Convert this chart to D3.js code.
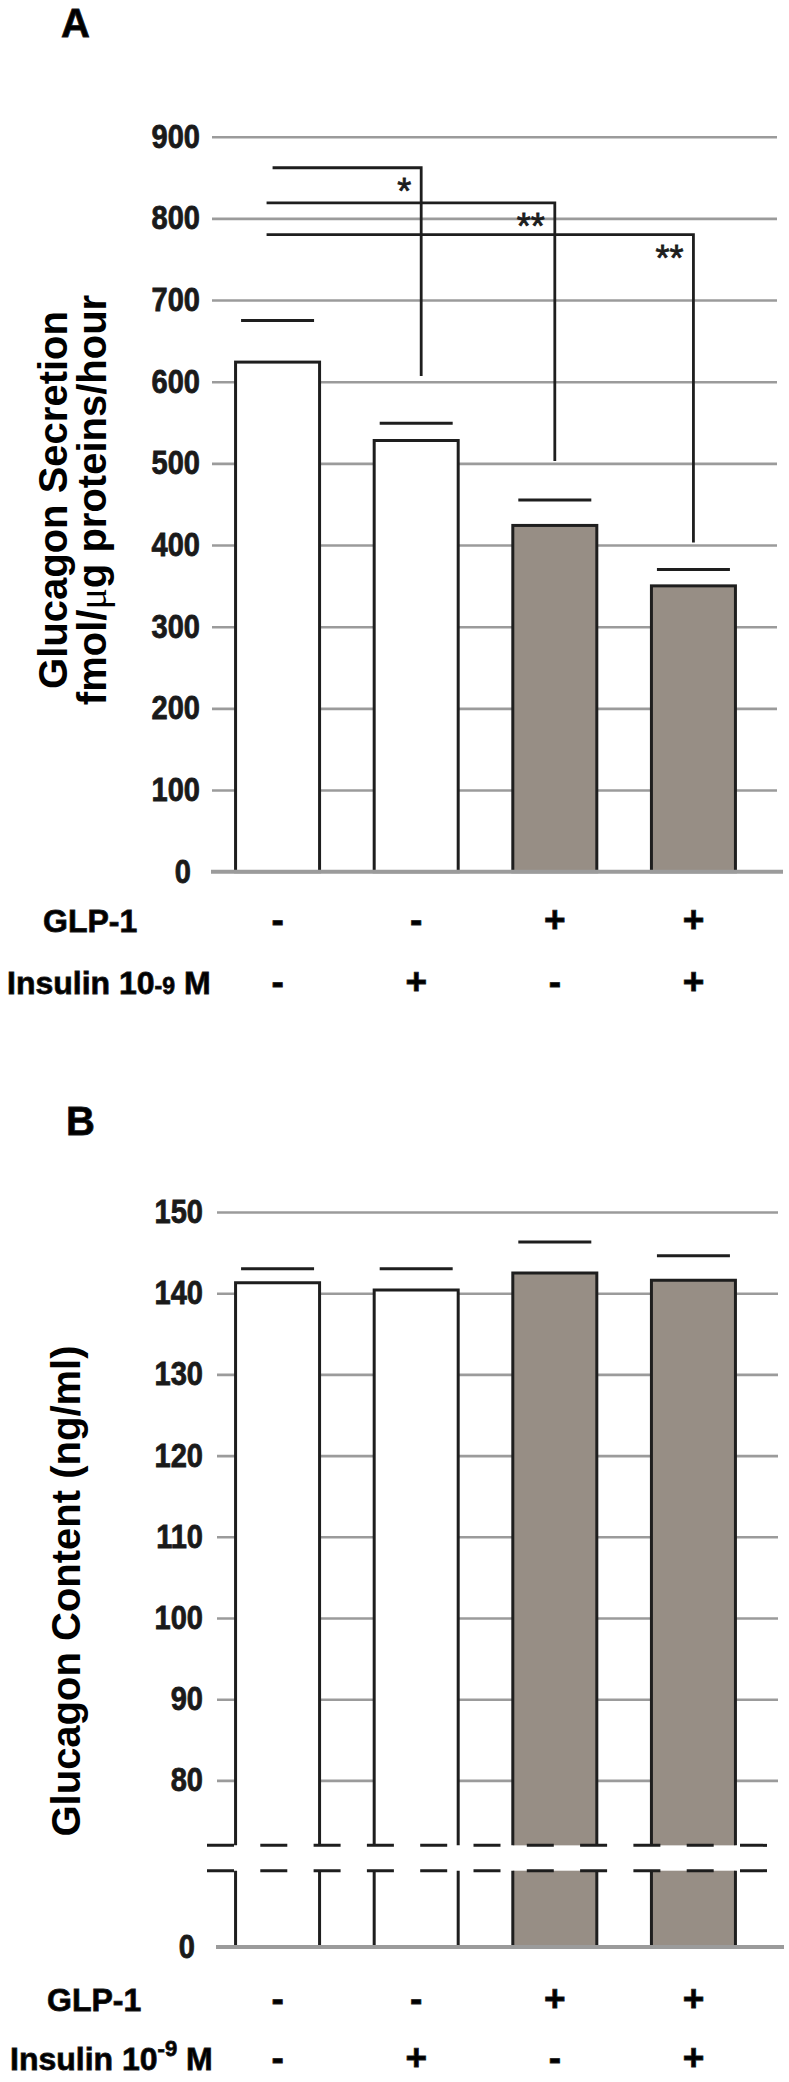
<!DOCTYPE html>
<html>
<head>
<meta charset="utf-8">
<script src="https://cdn.jsdelivr.net/npm/d3@7"></script>
<style>
  body { margin: 0; background: #fff; }
  svg { display: block; font-family: "Liberation Sans", Arial, Helvetica, sans-serif; }
  .heavy { stroke: #1a1a1a; stroke-width: 0.8px; }
</style>
</head>
<body>
<div id="chart"></div>
<script>
// treatment groups, in bar order
const groups = ['control', 'insulin', 'glp1', 'glp1+insulin'];
const glp1Signs = ['-', '-', '+', '+'];
const insulinSigns = ['-', '+', '-', '+'];

// panel A: glucagon secretion (fmol/ug proteins/hour)
const secretionMean = [624, 528, 424, 350];
const secretionSem = [51, 21, 31, 20];
const secretionTicks = [0, 100, 200, 300, 400, 500, 600, 700, 800, 900];
const brackets = [
  { from: 0, to: 1, top: 862, bottom: 607, label: '*' },
  { from: 0, to: 2, top: 819, bottom: 503, label: '**' },
  { from: 0, to: 3, top: 780, bottom: 403, label: '**' },
];

// panel B: glucagon content (ng/ml), broken axis
const contentMean = [141.3, 140.4, 142.5, 141.6];
const contentSem = [1.7, 2.6, 3.8, 3.0];
const contentTicks = [80, 90, 100, 110, 120, 130, 140, 150];
const contentLowTicks = [0];

const width = 789, height = 2082;
const grey = '#978e85';
const ink = '#1e1e1e';
const gridColor = '#9b9b9b';

const svg = d3.select('#chart').append('svg')
  .attr('width', width).attr('height', height)
  .attr('viewBox', `0 0 ${width} ${height}`);

const x = d3.scaleBand()
  .domain(groups)
  .range([212, 759])
  .paddingInner(0.394)
  .paddingOuter(0.17);
const cx = (i) => x(groups[i]) + x.bandwidth() / 2;
const capW = 73;
const squeeze = 0.88; // tick digits are a bit narrow in the original

function styleTicks(g, pad, zeroPad) {
  g.attr('font-family', null).attr('font-size', null);
  g.select('.domain').remove();
  g.selectAll('.tick line').attr('stroke', gridColor).attr('stroke-width', 2.6);
  g.selectAll('.tick text')
    .attr('fill', '#1a1a1a')
    .attr('class', 'heavy')
    .style('font-size', '33px')
    .style('font-weight', 'bold')
    .attr('transform', `scale(${squeeze},1)`)
    .attr('x', (d) => -(d === 0 ? zeroPad : pad) / squeeze);
}

function rowLabels(yGlp, yIns, superscript) {
  svg.append('text')
    .attr('class', 'heavy')
    .attr('x', superscript ? 47 : 43).attr('y', yGlp)
    .style('font-size', '32px').style('font-weight', 'bold')
    .text('GLP-1');
  const ins = svg.append('text')
    .attr('class', 'heavy')
    .attr('x', superscript ? 10 : 7).attr('y', yIns)
    .style('font-size', '32px').style('font-weight', 'bold');
  ins.append('tspan').text('Insulin 10');
  if (superscript) {
    ins.append('tspan').attr('dy', -14).style('font-size', '22px').text('-9');
    ins.append('tspan').attr('dy', 14).text(' M');
  } else {
    ins.append('tspan').style('font-size', '23px').text('-9');
    ins.append('tspan').text(' M');
  }
  [[glp1Signs, yGlp], [insulinSigns, yIns]].forEach(([signs, yy]) => {
    svg.append('g').selectAll('text')
      .data(signs)
      .join('text')
      .attr('class', 'heavy')
      .attr('x', (d, i) => cx(i))
      .attr('y', yy)
      .attr('text-anchor', 'middle')
      .style('font-size', '37px').style('font-weight', 'bold')
      .text((d) => d);
  });
}

// ---------------- Panel A ----------------
svg.append('text').attr('x', 61).attr('y', 37).attr('class', 'heavy')
  .style('font-size', '40px').style('font-weight', 'bold').text('A');

const yA = d3.scaleLinear().domain([0, 900]).range([871.7, 136.7]);

const axA = svg.append('g')
  .attr('transform', 'translate(212,0)')
  .call(d3.axisLeft(yA).tickValues(secretionTicks).tickSize(-(777 - 212)).tickPadding(12));
styleTicks(axA, 12, 21);
axA.selectAll('.tick').filter((d) => d === 0).select('line').remove();

const titleA = svg.append('g').attr('font-size', '40px').attr('font-weight', 'bold');
titleA.append('text')
  .attr('transform', 'translate(67,500) rotate(-90)')
  .attr('text-anchor', 'middle')
  .text('Glucagon Secretion');
const t2 = titleA.append('text')
  .attr('transform', 'translate(106,500) rotate(-90)')
  .attr('text-anchor', 'middle');
t2.append('tspan').text('fmol/');
t2.append('tspan').style('font-family', '"Liberation Serif", serif').style('font-weight', 'normal').text('μ');
t2.append('tspan').text('g proteins/hour');

svg.append('g').selectAll('rect')
  .data(secretionMean)
  .join('rect')
  .attr('x', (d, i) => x(groups[i]))
  .attr('y', (d) => yA(d))
  .attr('width', x.bandwidth())
  .attr('height', (d) => yA(0) - yA(d))
  .attr('fill', (d, i) => glp1Signs[i] === '+' ? grey : '#fff')
  .attr('stroke', ink)
  .attr('stroke-width', 3);

svg.append('g').selectAll('line')
  .data(secretionMean)
  .join('line')
  .attr('x1', (d, i) => cx(i) - capW / 2)
  .attr('x2', (d, i) => cx(i) + capW / 2)
  .attr('y1', (d, i) => yA(d + secretionSem[i]))
  .attr('y2', (d, i) => yA(d + secretionSem[i]))
  .attr('stroke', ink)
  .attr('stroke-width', 3);

svg.append('line')
  .attr('x1', 211).attr('x2', 783)
  .attr('y1', yA(0)).attr('y2', yA(0))
  .attr('stroke', gridColor).attr('stroke-width', 4);

const br = svg.append('g');
br.selectAll('path')
  .data(brackets)
  .join('path')
  .attr('d', (b, i) => `M${cx(b.from) - (i === 0 ? 5 : 11)},${yA(b.top)}H${cx(b.to) + (i === 0 ? 5 : 0)}V${yA(b.bottom)}`)
  .attr('fill', 'none')
  .attr('stroke', ink)
  .attr('stroke-width', 2.8);
br.selectAll('text')
  .data(brackets)
  .join('text')
  .attr('class', 'heavy')
  .attr('x', (b, i) => cx(b.to) + (i === 0 ? 5 : 0) - 10)
  .attr('y', (b) => yA(b.top) + 36)
  .attr('text-anchor', 'end')
  .style('font-size', '36px')
  .attr('fill', ink)
  .text((b) => b.label);

rowLabels(932, 994, false);

// ---------------- Panel B ----------------
svg.append('text').attr('x', 66).attr('y', 1135).attr('class', 'heavy')
  .style('font-size', '40px').style('font-weight', 'bold').text('B');

const yB = d3.scaleLinear().domain([80, 150]).range([1780.4, 1212]);
const yBLow = d3.scaleLinear().domain([0, 9.4]).range([1947, 1870.7]);
const breakTop = yB(72);      // upper edge of the axis break
const breakBottom = yBLow(9.4);

const axB = svg.append('g')
  .attr('transform', 'translate(217,0)')
  .call(d3.axisLeft(yB).tickValues(contentTicks).tickSize(-(778 - 217)).tickPadding(14));
styleTicks(axB, 14, 22);
const axB0 = svg.append('g')
  .attr('transform', 'translate(217,0)')
  .call(d3.axisLeft(yBLow).tickValues(contentLowTicks).tickSize(0).tickPadding(22));
styleTicks(axB0, 22, 22);

svg.append('text')
  .attr('transform', 'translate(80,1591) rotate(-90)')
  .attr('text-anchor', 'middle')
  .style('font-size', '40px').style('font-weight', 'bold')
  .text('Glucagon Content (ng/ml)');

const barsB = svg.append('g');
barsB.selectAll('rect.up')
  .data(contentMean)
  .join('rect')
  .attr('class', 'up')
  .attr('x', (d, i) => x(groups[i]))
  .attr('y', (d) => yB(d))
  .attr('width', x.bandwidth())
  .attr('height', (d) => breakTop - yB(d))
  .attr('fill', (d, i) => glp1Signs[i] === '+' ? grey : '#fff');
barsB.selectAll('rect.low')
  .data(contentMean)
  .join('rect')
  .attr('class', 'low')
  .attr('x', (d, i) => x(groups[i]))
  .attr('y', breakBottom)
  .attr('width', x.bandwidth())
  .attr('height', yBLow(0) - breakBottom)
  .attr('fill', (d, i) => glp1Signs[i] === '+' ? grey : '#fff');
barsB.selectAll('path.up')
  .data(contentMean)
  .join('path')
  .attr('class', 'up')
  .attr('d', (d, i) => {
    const x0 = x(groups[i]), x1 = x0 + x.bandwidth();
    return `M${x0},${breakTop}V${yB(d)}H${x1}V${breakTop}`;
  })
  .attr('fill', 'none').attr('stroke', ink).attr('stroke-width', 3);
barsB.selectAll('path.low')
  .data(contentMean)
  .join('path')
  .attr('class', 'low')
  .attr('d', (d, i) => {
    const x0 = x(groups[i]), x1 = x0 + x.bandwidth();
    return `M${x0},${breakBottom}V${yBLow(0)}M${x1},${breakBottom}V${yBLow(0)}`;
  })
  .attr('fill', 'none').attr('stroke', ink).attr('stroke-width', 3);

svg.append('g').selectAll('line')
  .data(contentMean)
  .join('line')
  .attr('x1', (d, i) => cx(i) - capW / 2)
  .attr('x2', (d, i) => cx(i) + capW / 2)
  .attr('y1', (d, i) => yB(d + contentSem[i]))
  .attr('y2', (d, i) => yB(d + contentSem[i]))
  .attr('stroke', ink)
  .attr('stroke-width', 3);

// axis break marks
svg.append('g').selectAll('line')
  .data([breakTop, breakBottom])
  .join('line')
  .attr('x1', 207).attr('x2', 778)
  .attr('y1', (d) => d).attr('y2', (d) => d)
  .attr('stroke', ink).attr('stroke-width', 3)
  .attr('stroke-dasharray', '27 26.3');

svg.append('line')
  .attr('x1', 216).attr('x2', 784)
  .attr('y1', yBLow(0)).attr('y2', yBLow(0))
  .attr('stroke', gridColor).attr('stroke-width', 4);

rowLabels(2011, 2070, true);
</script>
</body>
</html>
